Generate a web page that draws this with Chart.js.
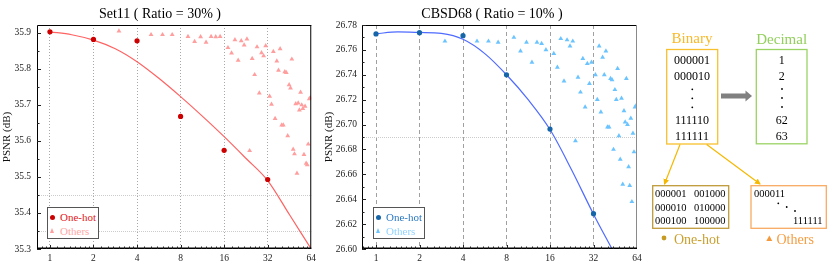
<!DOCTYPE html>
<html>
<head>
<meta charset="utf-8">
<script src="https://cdn.jsdelivr.net/npm/chart.js@4/dist/chart.umd.min.js"></script>
<style>
  body { margin: 0; width: 830px; height: 271px; overflow: hidden; background: #fff; position: relative;
         font-family: "Liberation Serif", "Times New Roman", serif; }
  .wrap { position: absolute; top: 0; height: 271px; }
  .title { position: absolute; top: 5px; width: 240px; text-align: center; font-size: 14px; line-height: 17px; color: #000; }
  .legend { position: absolute; border: 1px solid #555; background: #fff; box-sizing: border-box; }
  .legend .row { position: absolute; left: 0; height: 12px; line-height: 12px; font-size: 11px; font-weight: normal; white-space: nowrap; }
  .legend .dot { position: absolute; left: 2px; top: 3.5px; width: 5px; height: 5px; border-radius: 50%; }
  .legend .tri { position: absolute; left: 2px; top: 3px; width: 0; height: 0;
                 border-left: 2.6px solid transparent; border-right: 2.6px solid transparent; border-bottom: 5px solid; }
  .legend .lbl { position: absolute; left: 12px; top: 0; }
  #diagram { position: absolute; left: 640px; top: 0; }
</style>
</head>
<body>
<div class="wrap" style="left:0;width:320px"><canvas id="set11" width="320" height="271"></canvas></div>
<div class="wrap" style="left:321px;width:342px"><canvas id="cbsd68" width="342" height="271"></canvas></div>

<div class="title" style="left:40px">Set11 ( Ratio = 30% )</div>
<div class="title" style="left:372px">CBSD68 ( Ratio = 10% )</div>

<div class="legend" style="left:47px;top:207px;width:52px;height:32px">
  <div class="row" style="top:3px;width:50px"><span class="dot" style="background:#cc0000"></span><span class="lbl" style="color:#e01a1a">One-hot</span></div>
  <div class="row" style="top:17px;width:50px"><span class="tri" style="border-bottom-color:#ff9e9e"></span><span class="lbl" style="color:#ffa8a8">Others</span></div>
</div>
<div class="legend" style="left:373px;top:207px;width:52px;height:32px">
  <div class="row" style="top:3px;width:50px"><span class="dot" style="background:#1565a8"></span><span class="lbl" style="color:#2a78c0">One-hot</span></div>
  <div class="row" style="top:17px;width:50px"><span class="tri" style="border-bottom-color:#6cc4ff"></span><span class="lbl" style="color:#92d3ff">Others</span></div>
</div>

<svg id="diagram" width="190" height="271" font-family="Liberation Serif, Times New Roman, serif">
  <defs>
    <marker id="headY" markerWidth="6" markerHeight="6" refX="5" refY="3" orient="auto" markerUnits="userSpaceOnUse">
      <path d="M0,0 L6,3 L0,6 z" fill="#f5b800"/>
    </marker>
  </defs>
  <text x="52" y="43" font-size="15" fill="#f7b928" text-anchor="middle">Binary</text>
  <rect x="26.7" y="49.5" width="51" height="94.5" fill="none" stroke="#f7c02e" stroke-width="1.3"/>
  <g font-size="12" fill="#000" text-anchor="middle">
    <text x="52" y="63.5">000001</text>
    <text x="52" y="80">000010</text>
    <text x="52" y="124">111110</text>
    <text x="52" y="139.5">111111</text>
  </g>
  <circle cx="52.3" cy="89.3" r="0.9" fill="#000"/>
  <circle cx="52.3" cy="98.3" r="0.9" fill="#000"/>
  <circle cx="52.3" cy="107.3" r="0.9" fill="#000"/>

  <rect x="81" y="93.5" width="25" height="5" fill="#808080"/>
  <path d="M105.5,90.5 L112,96 L105.5,101.5 z" fill="#808080"/>

  <text x="141.7" y="43.5" font-size="15" fill="#92cf5c" text-anchor="middle">Decimal</text>
  <rect x="116.3" y="49.5" width="50.7" height="94.3" fill="none" stroke="#9ad364" stroke-width="1.3"/>
  <g font-size="12" fill="#000" text-anchor="middle">
    <text x="141.7" y="63.5">1</text>
    <text x="141.7" y="80">2</text>
    <text x="141.7" y="124">62</text>
    <text x="141.7" y="139.5">63</text>
  </g>
  <circle cx="142" cy="89" r="0.9" fill="#000"/>
  <circle cx="142" cy="98" r="0.9" fill="#000"/>
  <circle cx="142" cy="107" r="0.9" fill="#000"/>

  <line x1="40" y1="144.5" x2="24.5" y2="184" stroke="#f5b800" stroke-width="1.2" marker-end="url(#headY)"/>
  <line x1="66.7" y1="144.5" x2="120" y2="184" stroke="#f5b800" stroke-width="1.2" marker-end="url(#headY)"/>

  <rect x="12.7" y="185.7" width="76" height="42.6" fill="none" stroke="#c09a3a" stroke-width="1.3"/>
  <g font-size="10.5" fill="#000">
    <text x="15" y="197">000001</text><text x="54" y="197">001000</text>
    <text x="15" y="210.5">000010</text><text x="54" y="210.5">010000</text>
    <text x="15" y="224">000100</text><text x="54" y="224">100000</text>
  </g>
  <circle cx="24" cy="238" r="2.4" fill="#c79a22"/>
  <text x="34" y="243.5" font-size="14" fill="#c9a030">One-hot</text>

  <rect x="111" y="185.7" width="75.3" height="42.6" fill="none" stroke="#f8ab62" stroke-width="1.3"/>
  <g font-size="10.5" fill="#000">
    <text x="114" y="197">000011</text>
    <text x="153" y="224">111111</text>
  </g>
  <circle cx="138.3" cy="203.3" r="0.9" fill="#000"/>
  <circle cx="146.7" cy="207" r="0.9" fill="#000"/>
  <circle cx="155" cy="211" r="0.9" fill="#000"/>
  <path d="M126.3,241 L129.3,235.5 L132.3,241 z" fill="#f59a3c"/>
  <text x="136.5" y="243.5" font-size="14" fill="#f59d42">Others</text>
</svg>

<script>
const FONT = "'Liberation Serif', 'Times New Roman', serif";

// x positions (codeword value) and tick labels
const xTicks = [1, 2, 4, 8, 16, 32, 64];
const oneHotX = [1, 2, 4, 8, 16, 32];
const othersX = [3, 5, 6, 7, 9, 10, 11, 12, 13, 14, 15,
  17, 18, 19, 20, 21, 22, 23, 24, 25, 26, 27, 28, 29, 30, 31,
  33, 34, 35, 36, 37, 38, 39, 40, 41, 42, 43, 44, 45, 46, 47, 48,
  49, 50, 51, 52, 53, 54, 55, 56, 57, 58, 59, 60, 61, 62, 63];
const fitX1 = [1, 1.414, 2, 2.83, 4, 5.66, 8, 11.3, 16, 22.6, 32, 45.3, 64];
const fitX2 = [1, 1.414, 2, 2.83, 4, 5.66, 8, 11.3, 16, 22.6, 32, 43];

// Set11 (ratio 30%)
const set11OneHot = [35.903, 35.882, 35.878, 35.668, 35.574, 35.493];
const set11Others = [35.905, 35.895, 35.895, 35.895, 35.890, 35.876, 35.889, 35.874, 35.890, 35.889, 35.890,
  35.859, 35.844, 35.881, 35.824, 35.878, 35.866, 35.883, 35.573, 35.829, 35.784, 35.861, 35.733, 35.845, 35.836, 35.864,
  35.724, 35.702, 35.848, 35.662, 35.822, 35.796, 35.856, 35.644, 35.644, 35.792, 35.790, 35.614, 35.756, 35.747, 35.827, 35.577,
  35.564, 35.703, 35.510, 35.705, 35.686, 35.735, 35.700, 35.690, 35.562, 35.696, 35.538, 35.534, 35.591, 35.717, 35.720];
const set11Fit = [35.903, 35.895, 35.880, 35.856, 35.820, 35.774, 35.723, 35.669, 35.612, 35.552, 35.490, 35.395, 35.300];
const set11YTicks = [35.3, 35.4, 35.5, 35.6, 35.7, 35.8, 35.9];
const set11RefLines = [35.35, 35.45];

// CBSD68 (ratio 10%)
const cbsdOneHot = [26.7728, 26.7738, 26.7714, 26.7400, 26.6964, 26.6284];
const cbsdOthers = [26.767, 26.767, 26.767, 26.766, 26.770, 26.759, 26.766, 26.750, 26.766, 26.765, 26.760,
  26.757, 26.746, 26.769, 26.735, 26.768, 26.763, 26.767, 26.687, 26.738, 26.726, 26.753, 26.714, 26.749, 26.733, 26.750,
  26.740, 26.720, 26.763, 26.710, 26.754, 26.740, 26.759, 26.698, 26.698, 26.737, 26.736, 26.680, 26.728, 26.720, 26.745, 26.691,
  26.672, 26.721, 26.652, 26.711, 26.702, 26.737, 26.700, 26.666, 26.651, 26.705, 26.638, 26.693, 26.678, 26.714, 26.715];
const cbsdFit = [26.7730, 26.7744, 26.7740, 26.7732, 26.7685, 26.7570, 26.7400, 26.7200, 26.6960, 26.6635, 26.6280, 26.6000];
const cbsdYTicks = [26.60, 26.62, 26.64, 26.66, 26.68, 26.70, 26.72, 26.74, 26.76, 26.78];
const cbsdRefLines = [26.69];

function pts(xs, ys) {
  return xs.map((x, i) => ({ x: x, y: ys[i] }));
}

// box, inward ticks and light reference lines
const framePlugin = {
  id: 'frame',
  beforeDatasetsDraw(chart, args, opts) {
    const { ctx, chartArea: a, scales: { y } } = chart;
    ctx.save();
    ctx.strokeStyle = '#cccccc';
    ctx.lineWidth = 1;
    ctx.setLineDash([1, 1]);
    opts.refLines.forEach(v => {
      const py = Math.round(y.getPixelForValue(v)) + 0.5;
      ctx.beginPath(); ctx.moveTo(a.left, py); ctx.lineTo(a.right, py); ctx.stroke();
    });
    ctx.restore();
  },
  afterDraw(chart, args, opts) {
    const { ctx, chartArea: a, scales: { x, y } } = chart;
    ctx.save();
    ctx.lineWidth = 1;
    ctx.strokeStyle = '#000';
    ctx.beginPath();
    ctx.moveTo(a.left + 0.5, a.bottom);
    ctx.lineTo(a.left + 0.5, a.top + 0.5);
    ctx.lineTo(a.right, a.top + 0.5);
    ctx.stroke();
    ctx.strokeStyle = opts.rightColor;
    ctx.beginPath(); ctx.moveTo(a.right - 0.5, a.top); ctx.lineTo(a.right - 0.5, a.bottom); ctx.stroke();
    ctx.strokeStyle = '#000';
    ctx.lineWidth = 1.5;
    ctx.beginPath(); ctx.moveTo(a.left, a.bottom - 0.75); ctx.lineTo(a.right, a.bottom - 0.75); ctx.stroke();

    ctx.lineWidth = 1;
    ctx.strokeStyle = '#222';
    for (let k = -1; k < 6; k++) {
      for (let i = 0; i < 8; i++) {
        const v = Math.pow(2, k) * (1 + i / 8);
        if (v < x.min || v > x.max) continue;
        const px = Math.round(x.getPixelForValue(v)) + 0.5;
        const len = i === 0 ? 4 : 2.5;
        ctx.beginPath(); ctx.moveTo(px, a.bottom); ctx.lineTo(px, a.bottom - len); ctx.stroke();
      }
    }
    const half = opts.yStep / 2;
    const n = Math.round((y.max - y.min) / half);
    for (let j = 0; j <= n; j++) {
      const py = Math.round(y.getPixelForValue(y.min + j * half)) + 0.5;
      const len = j % 2 === 0 ? 4 : 2.5;
      ctx.beginPath(); ctx.moveTo(a.left, py); ctx.lineTo(a.left + len, py); ctx.stroke();
    }
    ctx.restore();
  }
};

function buildChart(id, o) {
  return new Chart(document.getElementById(id), {
    data: {
      datasets: [
        { type: 'scatter', label: 'One-hot', data: pts(oneHotX, o.oneHot), pointStyle: 'circle', pointRadius: 2.6,
          backgroundColor: o.oneHotColor, borderWidth: 0, order: 1 },
        { type: 'scatter', label: 'Others', data: pts(othersX, o.others), pointStyle: 'triangle', pointRadius: 2.8,
          backgroundColor: o.othersColor, borderWidth: 0, order: 2 },
        { type: 'line', label: 'fit', data: pts(o.fitX, o.fit), borderColor: o.lineColor, borderWidth: 1.2,
          pointRadius: 0, cubicInterpolationMode: 'monotone', fill: false, order: 3 }
      ]
    },
    options: {
      responsive: false,
      animation: false,
      devicePixelRatio: 1,
      layout: { padding: { top: 25, right: o.padRight, left: 0, bottom: 0 } },
      plugins: {
        legend: { display: false },
        tooltip: { enabled: false },
        frame: { refLines: o.refLines, rightColor: o.rightColor, yStep: o.yStep }
      },
      scales: {
        x: {
          type: 'logarithmic', min: o.xMin, max: 64,
          afterBuildTicks: s => { s.ticks = xTicks.map(v => ({ value: v })); },
          afterFit: s => { s.height = 22; },
          ticks: { autoSkip: false, maxRotation: 0, padding: 4, color: '#222',
                   font: { family: FONT, size: 9.5 }, callback: v => String(v) },
          grid: { drawTicks: false, lineWidth: 1,
                  color: c => (c.tick && c.tick.value === 64) ? 'rgba(0,0,0,0)' : o.gridColor },
          border: { display: false, dash: o.gridDash }
        },
        y: {
          min: o.yMin, max: o.yMax,
          afterBuildTicks: s => { s.ticks = o.yTicks.map(v => ({ value: v })); },
          afterFit: s => { s.width = o.yWidth; },
          ticks: { padding: o.yPad, color: '#222', font: { family: FONT, size: 9.5 },
                   callback: v => v.toFixed(o.dec) },
          grid: { display: false, drawTicks: false },
          border: { display: false },
          title: { display: true, text: 'PSNR (dB)', color: '#111', font: { family: FONT, size: 11 },
                   padding: { top: o.titlePad, bottom: 0 } }
        }
      }
    },
    plugins: [framePlugin]
  });
}

buildChart('set11', {
  oneHot: set11OneHot, others: set11Others, fitX: fitX1, fit: set11Fit,
  oneHotColor: '#cc0000', othersColor: '#ff9e9e', lineColor: '#ff6262',
  xMin: 0.814, yMin: 35.3, yMax: 35.922, yTicks: set11YTicks, yStep: 0.1, dec: 1,
  refLines: set11RefLines, yWidth: 37, yPad: 6, padRight: 7, titlePad: 1,
  gridColor: '#a8a8a8', gridDash: [1, 2], rightColor: '#000'
});

buildChart('cbsd68', {
  oneHot: cbsdOneHot, others: cbsdOthers, fitX: fitX2, fit: cbsdFit,
  oneHotColor: '#1565a8', othersColor: '#6cc4ff', lineColor: '#4f6bff',
  xMin: 0.80, yMin: 26.60, yMax: 26.78, yTicks: cbsdYTicks, yStep: 0.02, dec: 2,
  refLines: cbsdRefLines, yWidth: 41, yPad: 5, padRight: 26, titlePad: 2,
  gridColor: '#a0a0a0', gridDash: [4, 3], rightColor: '#8a8a8a'
});
</script>
</body>
</html>
